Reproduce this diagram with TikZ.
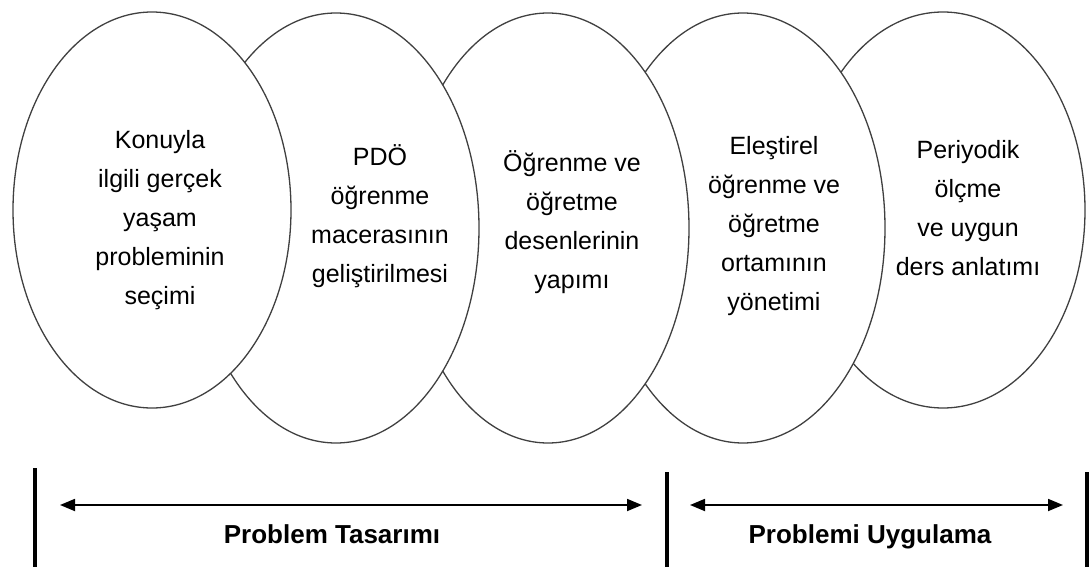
\documentclass[tikz,border=0pt]{standalone}
\usepackage{fontspec}
\setmainfont{Liberation Sans}
\usetikzlibrary{shapes.geometric}
\usetikzlibrary{arrows.meta}

\begin{document}
\begin{tikzpicture}[x=1pt,y=-1pt,
	halka/.style={ellipse,draw=black!75,line width=1.3pt,fill=white,inner sep=0pt},
	yazi/.style={align=center,font=\fontsize{25}{39}\selectfont},
	cubuk/.style={line width=4pt},
	ok/.style={line width=1.8pt,{Triangle[length=15pt,width=12pt]}-{Triangle[length=15pt,width=12pt]}},
	baslik/.style={font=\fontsize{26}{30}\selectfont\bfseries,anchor=base}]
	\useasboundingbox (0,0) rectangle (1089,567);
	% rightmost first, so the left ones lie on top
	\node[halka,minimum width=284pt,minimum height=396pt] (olcme) at (943,210) {};
	\node[halka,minimum width=284pt,minimum height=430pt] (yonetim) at (743,228) {};
	\node[halka,minimum width=282pt,minimum height=430pt] (desen) at (548,228) {};
	\node[halka,minimum width=286pt,minimum height=430pt] (macera) at (336,228) {};
	\node[halka,minimum width=278pt,minimum height=396pt] (secim) at (152,210) {};
	
	\node[yazi] (secimyazi) at (160,220) {Konuyla\\ilgili gerçek\\yaşam\\probleminin\\seçimi};
	\node[yazi] (macerayazi) at (380,216) {PDÖ\\öğrenme\\macerasının\\geliştirilmesi};
	\node[yazi] (desenyazi) at (572,222) {Öğrenme ve\\öğretme\\desenlerinin\\yapımı};
	\node[yazi] (yonetimyazi) at (774,226) {Eleştirel\\öğrenme ve\\öğretme\\ortamının\\yönetimi};
	\node[yazi] (olcmeyazi) at (968,208) {Periyodik\\ölçme\\ve uygun\\ders anlatımı};
	
	\coordinate (A) at (35,468);
	\coordinate (B) at (35,567);
	\coordinate (C) at (667,472);
	\coordinate (D) at (667,567);
	\coordinate (E) at (1087,472);
	\coordinate (F) at (1087,567);
	\draw[cubuk] (A)--(B);
	\draw[cubuk] (C)--(D);
	\draw[cubuk] (E)--(F);
	
	\coordinate (tasarimsol) at (60,505);
	\coordinate (tasarimsag) at (642,505);
	\coordinate (uygsol) at (690,505);
	\coordinate (uygsag) at (1063,505);
	\draw[ok] (tasarimsol)--(tasarimsag);
	\draw[ok] (uygsol)--(uygsag);
	\node[baslik] (tasarim) at (332,543) {Problem Tasarımı};
	\node[baslik] (uygulama) at (870,543) {Problemi Uygulama};
\end{tikzpicture}
\end{document}
